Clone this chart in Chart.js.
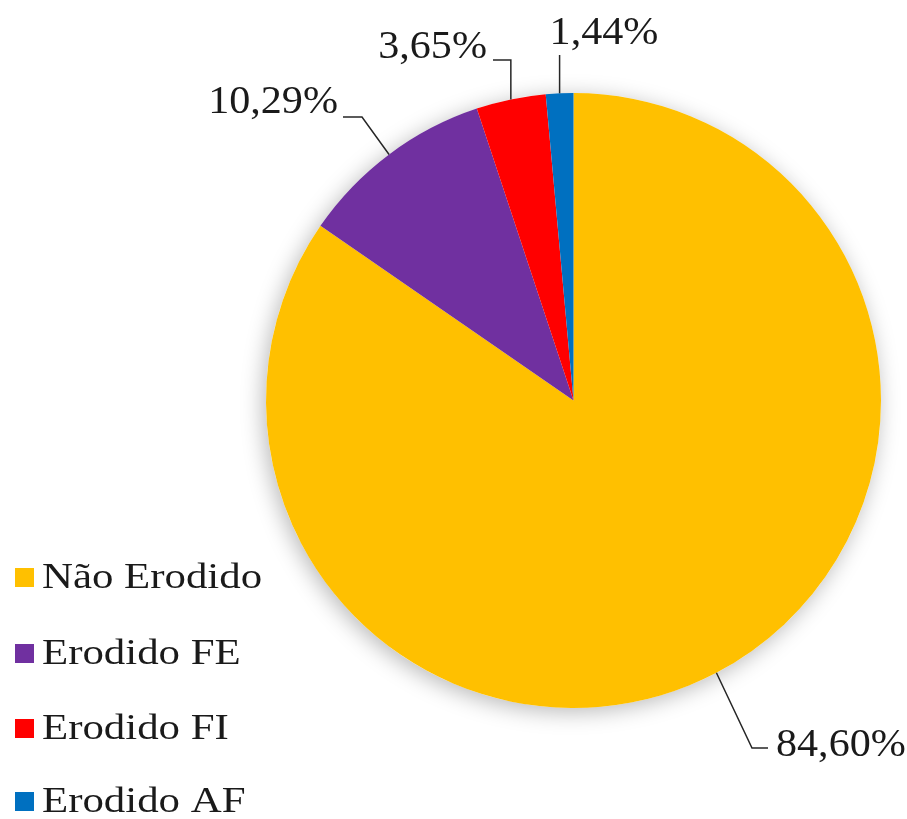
<!DOCTYPE html>
<html>
<head>
<meta charset="utf-8">
<script src="https://cdn.jsdelivr.net/npm/chart.js@4"></script>
<style>
  html, body { margin: 0; padding: 0; background: #fff; }
  #wrap { width: 907px; height: 819px; position: relative; }
</style>
</head>
<body>
<div id="wrap"><canvas id="pieChart" width="907" height="819"></canvas></div>
<script>
// --- dados ---
const categorias = ['Não Erodido', 'Erodido FE', 'Erodido FI', 'Erodido AF'];
const valores = [84.60, 10.29, 3.65, 1.44];
const cores = ['#FFC000', '#7030A0', '#FF0000', '#0070C0'];

// posição dos rótulos (cotovelo da linha, fim da linha, texto)
const rotulosLayout = [
    { elbow: [752, 748], end: [768, 748], text: [776, 746], align: 'left' },
    { elbow: [362, 117], end: [343, 117], text: [338, 103], align: 'right' },
    { elbow: null,       end: [493, 60],  text: [487, 48],  align: 'right', corner: true },
    { elbow: null,       end: [559, 55],  text: [604, 34],  align: 'center' }
];

const fmt = v => v.toFixed(2).replace('.', ',') + '%';
const FONTE = '"Liberation Serif", "Times New Roman", serif';

// texto levemente esticado na horizontal, como no original
function textoEsticado(ctx, txt, x, y, sx) {
    ctx.save();
    ctx.translate(x, y);
    ctx.scale(sx, 1);
    ctx.fillText(txt, 0, 0);
    ctx.restore();
}

const sombraPlugin = {
    id: 'sombra',
    beforeDatasetsDraw(chart) {
        const arc = chart.getDatasetMeta(0).data[0];
        if (!arc) return;
        const ctx = chart.ctx;
        ctx.save();
        ctx.shadowColor = 'rgba(0,0,0,0.28)';
        ctx.shadowBlur = 22;
        ctx.shadowOffsetX = -3;
        ctx.shadowOffsetY = 4;
        ctx.fillStyle = '#fff';
        ctx.beginPath();
        ctx.arc(arc.x, arc.y, arc.outerRadius, 0, Math.PI * 2);
        ctx.fill();
        ctx.restore();
    }
};

const rotulosPlugin = {
    id: 'rotulos',
    afterDraw(chart) {
        const ctx = chart.ctx;
        const meta = chart.getDatasetMeta(0);
        ctx.save();
        ctx.strokeStyle = '#262626';
        ctx.lineWidth = 1.5;
        ctx.fillStyle = '#1a1a1a';
        ctx.font = '39px ' + FONTE;
        ctx.textBaseline = 'middle';

        meta.data.forEach((arc, i) => {
            const mid = (arc.startAngle + arc.endAngle) / 2;
            const ax = arc.x + Math.cos(mid) * arc.outerRadius;
            const ay = arc.y + Math.sin(mid) * arc.outerRadius;
            const L = rotulosLayout[i];
            ctx.beginPath();
            ctx.moveTo(ax, ay);
            if (L.elbow) {
                ctx.lineTo(L.elbow[0], L.elbow[1]);
                ctx.lineTo(L.end[0], L.end[1]);
            } else if (L.corner) {
                ctx.lineTo(ax, L.end[1]);
                ctx.lineTo(L.end[0], L.end[1]);
            } else {
                ctx.lineTo(ax, L.end[1]);
            }
            ctx.stroke();
            ctx.textAlign = L.align;
            textoEsticado(ctx, fmt(valores[i]), L.text[0], L.text[1], 1.08);
        });

        // legenda
        ctx.font = '36px ' + FONTE;
        ctx.textAlign = 'left';
        const ys = [578, 654, 729, 802];
        categorias.forEach((c, i) => {
            ctx.fillStyle = cores[i];
            ctx.fillRect(15, ys[i] - 10, 19, 19);
            ctx.fillStyle = '#1a1a1a';
            textoEsticado(ctx, c, 42, ys[i] + 1, 1.19);
        });
        ctx.restore();
    }
};

new Chart(document.getElementById('pieChart'), {
    type: 'pie',
    data: {
        labels: categorias,
        datasets: [{
            data: valores,
            backgroundColor: cores,
            borderWidth: 0
        }]
    },
    options: {
        responsive: false,
        animation: false,
        layout: { padding: { left: 266, right: 26, top: 93, bottom: 111 } },
        plugins: {
            legend: { display: false },
            tooltip: { enabled: false }
        }
    },
    plugins: [sombraPlugin, rotulosPlugin]
});
</script>
</body>
</html>
